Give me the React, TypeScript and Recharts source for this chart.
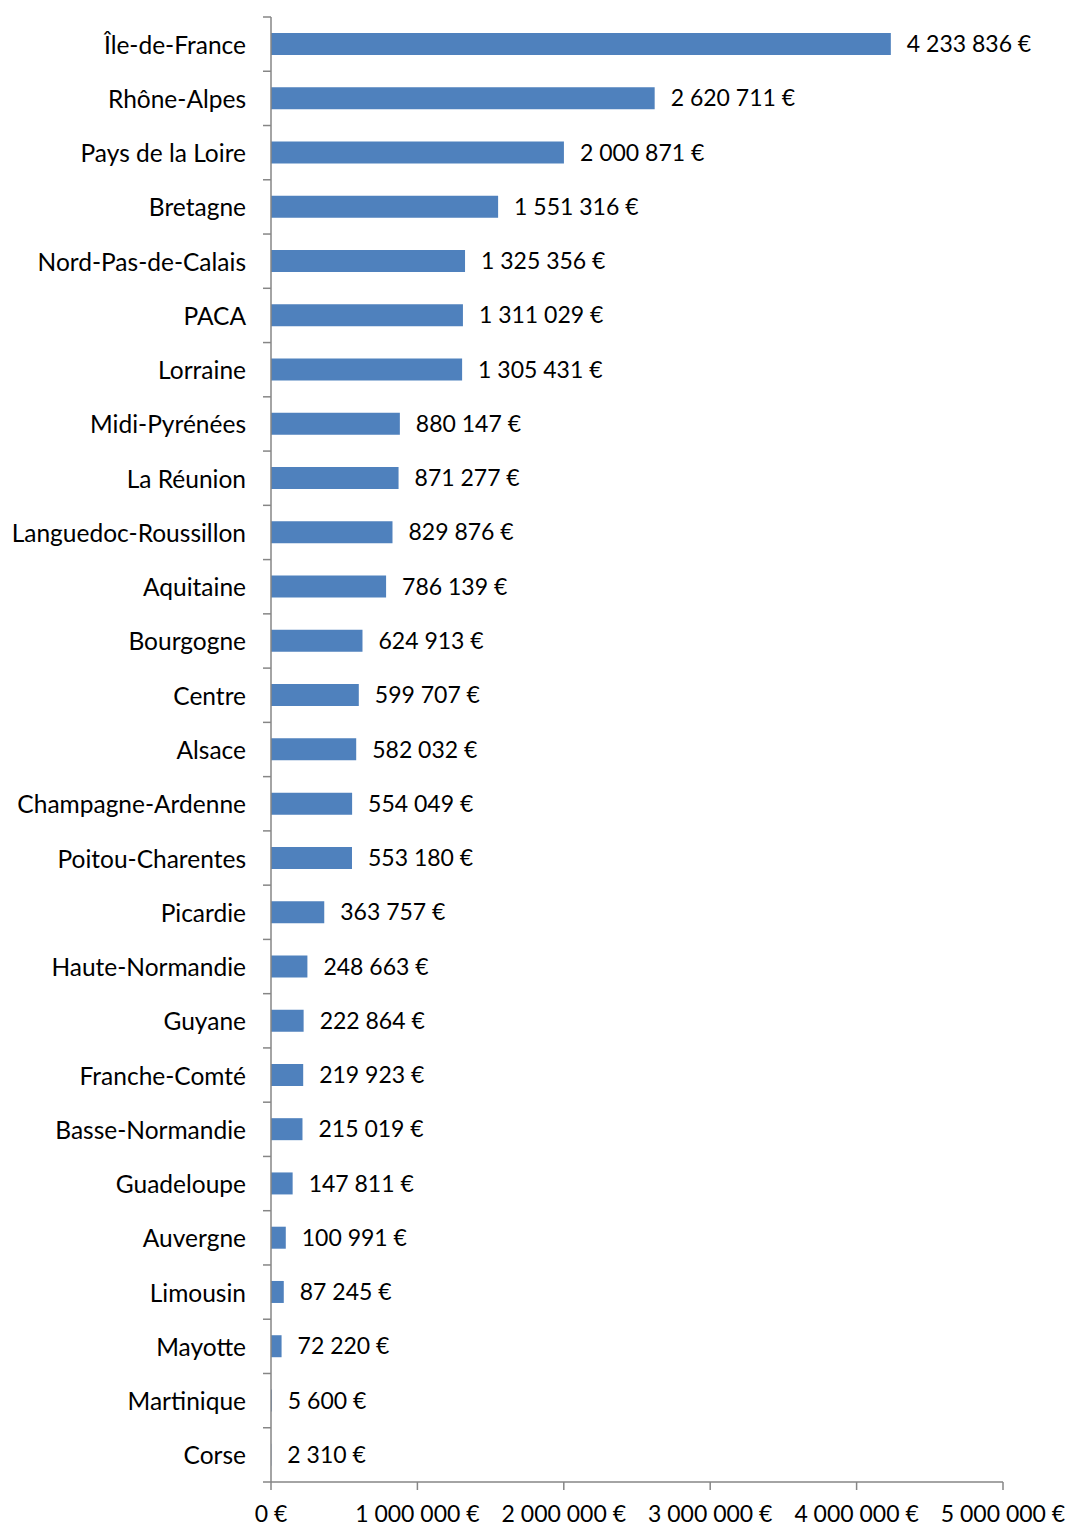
import { BarChart, Bar, XAxis, YAxis, LabelList } from 'recharts'

const regions = [
  'Île-de-France',
  'Rhône-Alpes',
  'Pays de la Loire',
  'Bretagne',
  'Nord-Pas-de-Calais',
  'PACA',
  'Lorraine',
  'Midi-Pyrénées',
  'La Réunion',
  'Languedoc-Roussillon',
  'Aquitaine',
  'Bourgogne',
  'Centre',
  'Alsace',
  'Champagne-Ardenne',
  'Poitou-Charentes',
  'Picardie',
  'Haute-Normandie',
  'Guyane',
  'Franche-Comté',
  'Basse-Normandie',
  'Guadeloupe',
  'Auvergne',
  'Limousin',
  'Mayotte',
  'Martinique',
  'Corse',
]

const amounts = [
  4233836, 2620711, 2000871, 1551316, 1325356, 1311029, 1305431, 880147,
  871277, 829876, 786139, 624913, 599707, 582032, 554049, 553180, 363757,
  248663, 222864, 219923, 215019, 147811, 100991, 87245, 72220, 5600, 2310,
]

const xTicks = [0, 1000000, 2000000, 3000000, 4000000, 5000000]

const data = regions.map((name, i) => ({ name, value: amounts[i] }))

// layout constants
const W = 1070
const H = 1526
const TOP = 17
const BOTTOM = 1482
const AXIS_X = 271
const BAND = (BOTTOM - TOP) / regions.length
const FONT = 'Lato, "Open Sans", sans-serif'
const AXIS_COLOR = '#868686'

const euro = (v: number) =>
  String(v).replace(/\B(?=(\d{3})+(?!\d))/g, ' ') + ' €'

function CategoryTick(props: any) {
  const { y, payload, index } = props
  const last = index === regions.length - 1
  return (
    <g>
      <line x1={AXIS_X - 8} x2={AXIS_X} y1={y - BAND / 2} y2={y - BAND / 2} stroke={AXIS_COLOR} strokeWidth={1.5} />
      {last && (
        <line x1={AXIS_X - 8} x2={AXIS_X} y1={y + BAND / 2} y2={y + BAND / 2} stroke={AXIS_COLOR} strokeWidth={1.5} />
      )}
      <text
        x={AXIS_X - 25}
        y={y}
        textAnchor="end"
        dominantBaseline="central"
        fontFamily={FONT}
        fontSize={24.5}
        fill="#000"
      >
        {payload.value}
      </text>
    </g>
  )
}

export default function App() {
  return (
    <div style={{ position: 'absolute', left: 0, top: 0, width: W, height: H, background: '#fff' }}>
      <BarChart
        width={W}
        height={H}
        data={data}
        layout="vertical"
        margin={{ top: TOP, right: W - 1003, bottom: 0, left: 0 }}
      >
        <XAxis
          type="number"
          domain={[0, 5000000]}
          ticks={xTicks}
          interval={0}
          tickFormatter={euro}
          axisLine={{ stroke: AXIS_COLOR, strokeWidth: 1.5 }}
          tickLine={{ stroke: AXIS_COLOR, strokeWidth: 1.5 }}
          tickSize={8}
          tickMargin={16}
          height={H - BOTTOM}
          tick={{ fontFamily: FONT, fontSize: 23, fill: '#000' }}
        />
        <YAxis
          type="category"
          dataKey="name"
          width={AXIS_X}
          interval={0}
          axisLine={{ stroke: AXIS_COLOR, strokeWidth: 1.5 }}
          tickLine={false}
          tick={<CategoryTick />}
        />
        <Bar dataKey="value" fill="#4F81BD" barSize={22} isAnimationActive={false}>
          <LabelList
            dataKey="value"
            position="right"
            offset={16}
            formatter={(v: any) => euro(Number(v))}
            style={{ fontFamily: FONT, fontSize: 23, fill: '#000' }}
          />
        </Bar>
      </BarChart>
    </div>
  )
}
